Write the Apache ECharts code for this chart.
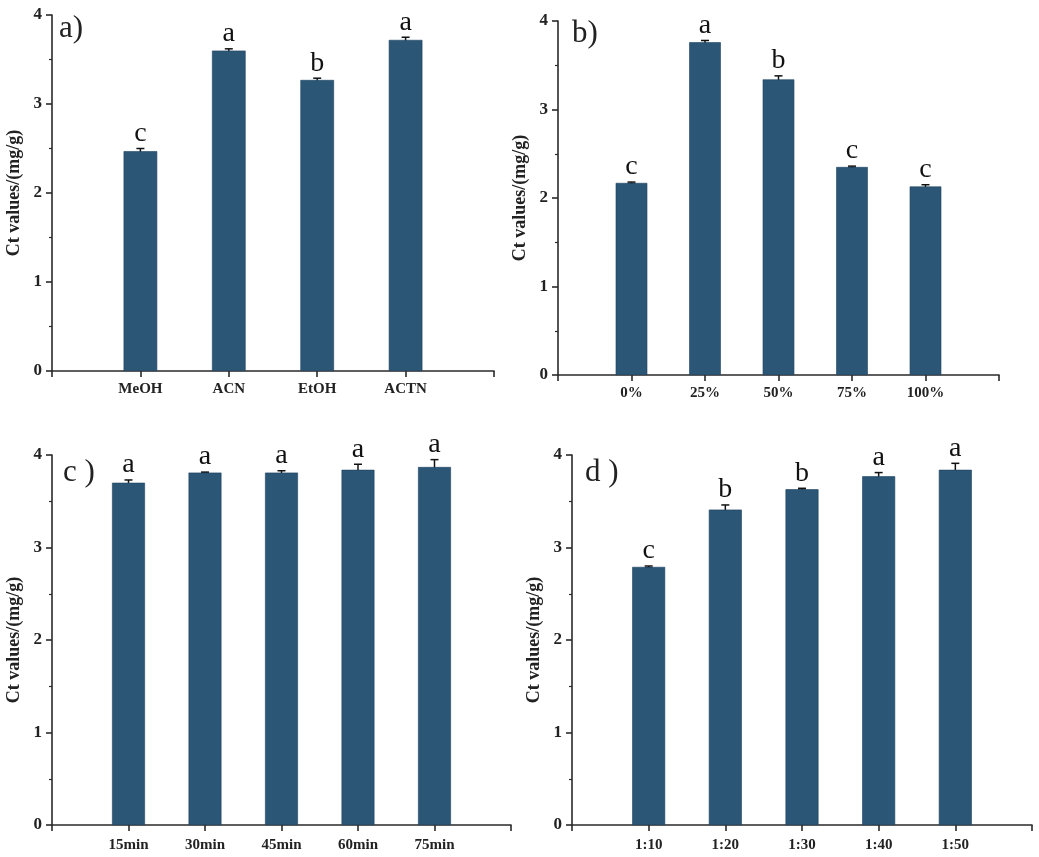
<!DOCTYPE html>
<html>
<head>
<meta charset="utf-8">
<script src="https://cdn.jsdelivr.net/npm/echarts@6/dist/echarts.min.js"></script>
<style>
html,body{margin:0;padding:0;background:#fff;}
#chart{width:1039px;height:857px;}
</style>
</head>
<body>
<div id="chart"></div>
<script>
// ---- data ----
const catsA = ['MeOH', 'ACN', 'EtOH', 'ACTN'];
const valsA = [2.47, 3.60, 3.27, 3.72];
const errA  = [0.03, 0.02, 0.02, 0.03];
const sigA  = ['c', 'a', 'b', 'a'];

const catsB = ['0%', '25%', '50%', '75%', '100%'];
const valsB = [2.17, 3.76, 3.34, 2.35, 2.13];
const errB  = [0.01, 0.02, 0.04, 0.01, 0.02];
const sigB  = ['c', 'a', 'b', 'c', 'c'];

const catsC = ['15min', '30min', '45min', '60min', '75min'];
const valsC = [3.70, 3.81, 3.81, 3.84, 3.87];
const errC  = [0.03, 0.005, 0.02, 0.06, 0.08];
const sigC  = ['a', 'a', 'a', 'a', 'a'];

const catsD = ['1:10', '1:20', '1:30', '1:40', '1:50'];
const valsD = [2.79, 3.41, 3.63, 3.77, 3.84];
const errD  = [0.01, 0.05, 0.01, 0.04, 0.07];
const sigD  = ['c', 'b', 'b', 'a', 'a'];

const yTicks = [0, 1, 2, 3, 4];
const panelLabels = ['a)', 'b)', 'c )', 'd )'];
const yName = 'Ct values/(mg/g)';

// ---- style ----
const SERIF = "'Liberation Serif', 'DejaVu Serif', serif";
const AXIS_COLOR = '#2a2a2a';
const BAR_COLOR = '#2b5676';

const panels = [
  {cats: catsA, vals: valsA, err: errA, sig: sigA, grid: {left: 52, top: 15, width: 442, height: 356}, barW: '38%', label: {x: 59, y: 13}},
  {cats: catsB, vals: valsB, err: errB, sig: sigB, grid: {left: 558, top: 21, width: 441, height: 354}, barW: '43%', label: {x: 572, y: 18}},
  {cats: catsC, vals: valsC, err: errC, sig: sigC, grid: {left: 52, top: 455, width: 459, height: 370}, barW: '43%', label: {x: 63, y: 457}},
  {cats: catsD, vals: valsD, err: errD, sig: sigD, grid: {left: 572, top: 455, width: 460, height: 370}, barW: '43%', label: {x: 585, y: 457}}
];

const grids = [], xAxes = [], yAxes = [], series = [], graphics = [];

panels.forEach((p, k) => {
  grids.push(Object.assign({containLabel: false}, p.grid));
  const padded = [''].concat(p.cats).concat(['']);
  xAxes.push({
    type: 'category', gridIndex: k, data: padded, boundaryGap: false,
    axisLine: {lineStyle: {color: AXIS_COLOR, width: 1.6}},
    axisTick: {show: true, inside: false, length: 6, interval: 0, lineStyle: {color: AXIS_COLOR, width: 1.6}},
    axisLabel: {interval: 0, margin: k < 2 ? 11 : 13, color: '#222', fontFamily: SERIF, fontWeight: 'bold', fontSize: 15},
    splitLine: {show: false}
  });
  yAxes.push({
    type: 'value', gridIndex: k, min: yTicks[0], max: yTicks[yTicks.length - 1], interval: 1,
    name: yName, nameLocation: 'middle', nameGap: 29,
    nameTextStyle: {color: '#222', fontFamily: SERIF, fontWeight: 'bold', fontSize: 18},
    axisLine: {show: true, lineStyle: {color: AXIS_COLOR, width: 1.6}},
    axisTick: {show: true, inside: false, length: 6, lineStyle: {color: AXIS_COLOR, width: 1.6}},
    minorTick: {show: true, splitNumber: 2, length: 3, lineStyle: {color: AXIS_COLOR, width: 1.2}},
    axisLabel: {margin: 10, color: '#222', fontFamily: SERIF, fontWeight: 'bold', fontSize: 17},
    splitLine: {show: false}, minorSplitLine: {show: false}
  });
  const barData = ['-'].concat(p.vals).concat(['-']);
  series.push({
    type: 'bar', xAxisIndex: k, yAxisIndex: k, data: barData, barWidth: p.barW,
    itemStyle: {color: BAR_COLOR, borderColor: '#1e4260', borderWidth: 0.6},
    silent: true, animation: false
  });
  const errData = p.vals.map((v, i) => [i + 1, v, p.err[i]]);
  series.push({
    type: 'custom', xAxisIndex: k, yAxisIndex: k, data: errData, animation: false, silent: true,
    encode: {x: 0, y: 1},
    renderItem: function (params, api) {
      const x = api.value(0), v = api.value(1), e = api.value(2);
      const top = api.coord([x, v + e]);
      const bot = api.coord([x, v - e]);
      const cap = 4;
      const st = {stroke: '#111', lineWidth: 1.5};
      return {
        type: 'group',
        children: [
          {type: 'line', shape: {x1: top[0], y1: top[1], x2: bot[0], y2: bot[1]}, style: st},
          {type: 'line', shape: {x1: top[0] - cap, y1: top[1], x2: top[0] + cap, y2: top[1]}, style: st},
          {type: 'line', shape: {x1: bot[0] - cap, y1: bot[1], x2: bot[0] + cap, y2: bot[1]}, style: st},
          {type: 'text', x: top[0], y: top[1] - 1,
           style: {text: p.sig[params.dataIndex], fill: '#111', font: '28px ' + SERIF, textAlign: 'center', textVerticalAlign: 'bottom'}}
        ]
      };
    }
  });
  graphics.push({
    type: 'text', left: p.label.x, top: p.label.y,
    style: {text: panelLabels[k], fill: '#222', font: '31px ' + SERIF}
  });
});

const chart = echarts.init(document.getElementById('chart'), null, {renderer: 'canvas'});
chart.setOption({
  backgroundColor: '#ffffff',
  animation: false,
  grid: grids,
  xAxis: xAxes,
  yAxis: yAxes,
  series: series,
  graphic: graphics
});
</script>
</body>
</html>
